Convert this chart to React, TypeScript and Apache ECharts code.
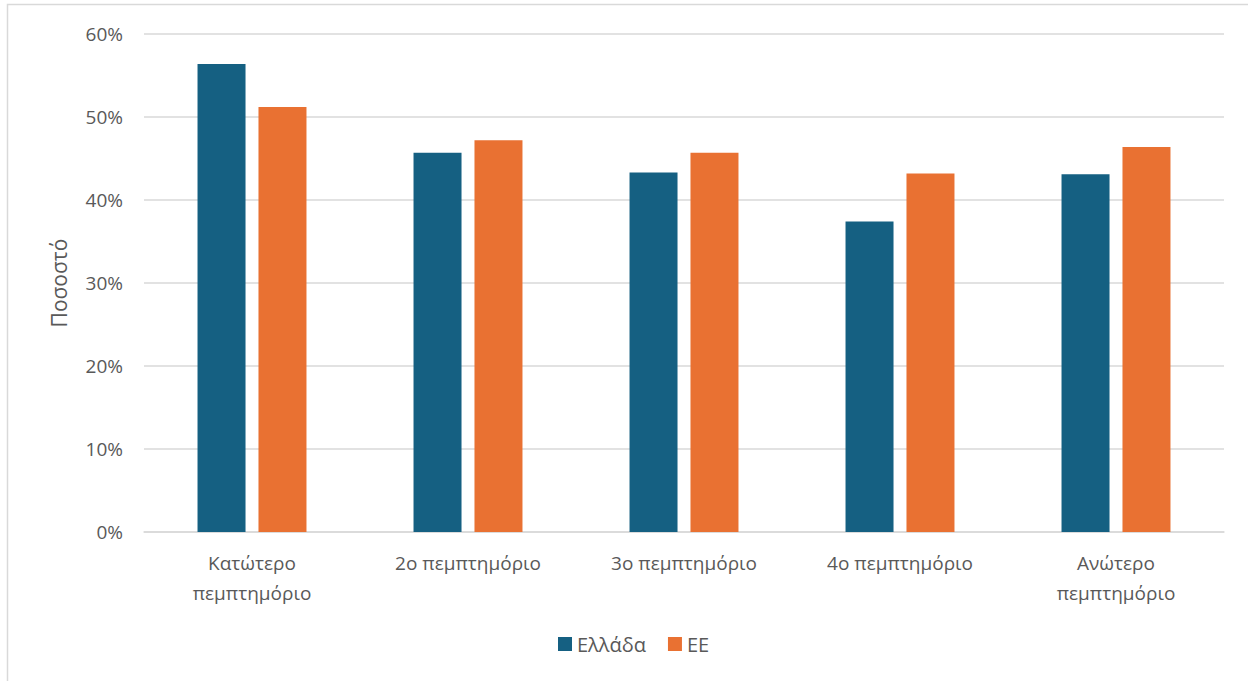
import React, { useEffect, useRef } from "react";
import * as echarts from "echarts";

const categories = ["Κατώτερο\nπεμπτημόριο", "2ο πεμπτημόριο", "3ο πεμπτημόριο", "4ο πεμπτημόριο", "Ανώτερο\nπεμπτημόριο"];
const greece = [0.564, 0.457, 0.433, 0.374, 0.431];
const eu = [0.512, 0.472, 0.457, 0.432, 0.464];
const seriesNames = ["Ελλάδα", "ΕΕ"];
const yAxisName = "Ποσοστό";

export default function App() {
  const ref = useRef<HTMLDivElement>(null);
  useEffect(() => {
    const chart = echarts.init(ref.current!, null, { renderer: "svg" });
    const font = "Open Sans";
    chart.setOption({
      animation: false,
      textStyle: { fontFamily: font },
      graphic: [
        {
          type: "rect",
          shape: { x: 7.5, y: 4.5, width: 1300, height: 700 },
          style: { fill: "none", stroke: "#d9d9d9", lineWidth: 1.5 },
          silent: true,
        },
      ],
      grid: { left: 144, right: 24, top: 34, bottom: 149 },
      legend: {
        data: seriesNames,
        bottom: 22,
        left: 553,
        itemWidth: 14,
        itemHeight: 14,
        itemGap: 22,
        icon: "rect",
        textStyle: { color: "#595959", fontSize: 20, fontFamily: font },
      },
      xAxis: {
        type: "category",
        data: categories,
        axisLine: { lineStyle: { color: "#d9d9d9", width: 1.5 } },
        axisTick: { show: false },
        axisLabel: { color: "#595959", fontSize: 19, lineHeight: 30, margin: 16, fontFamily: font },
      },
      yAxis: {
        type: "value",
        min: 0,
        max: 0.6,
        interval: 0.1,
        name: yAxisName,
        nameLocation: "middle",
        nameGap: 75,
        nameRotate: 90,
        nameTextStyle: { color: "#595959", fontSize: 21, fontFamily: font },
        axisLabel: {
          color: "#595959",
          fontSize: 19,
          margin: 21,
          fontFamily: font,
          formatter: (v: number) => Math.round(v * 100) + "%",
        },
        splitLine: { lineStyle: { color: "#d9d9d9", width: 1.5 } },
        axisLine: { show: false },
        axisTick: { show: false },
      },
      series: [
        {
          name: seriesNames[0],
          type: "bar",
          data: greece,
          barWidth: 48,
          barGap: "27%",
          itemStyle: { color: "#156082" },
        },
        {
          name: seriesNames[1],
          type: "bar",
          data: eu,
          barWidth: 48,
          itemStyle: { color: "#E97132" },
        },
      ],
    });
    return () => chart.dispose();
  }, []);
  return (
    <div
      ref={ref}
      style={{ position: "fixed", left: 0, top: 0, width: 1248, height: 681, background: "#fff" }}
    />
  );
}
